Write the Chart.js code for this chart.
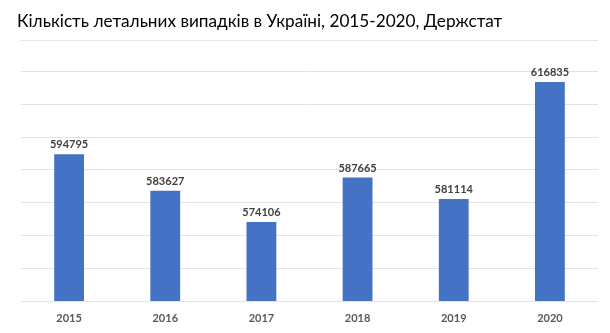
<!DOCTYPE html>
<html>
<head>
<meta charset="utf-8">
<script src="https://cdn.jsdelivr.net/npm/chart.js@4"></script>
<style>
  html, body { margin: 0; padding: 0; background: #fff; overflow: hidden; }
  #deathsChart { display: block; }
</style>
</head>
<body>
<canvas id="deathsChart" width="610" height="333"></canvas>
<script>
// Data
const years = ["2015", "2016", "2017", "2018", "2019", "2020"];
const deaths = [594795, 583627, 574106, 587665, 581114, 616835];
const titleText = "Кількість летальних випадків в Україні, 2015-2020, Держстат";

// Draws the value above each bar
const barValues = {
    id: "barValues",
    afterDatasetsDraw(chart) {
        let ctx = chart.ctx;
        ctx.save();
        ctx.font = "bold 11px Lato";
        ctx.fillStyle = "#404040";
        ctx.textAlign = "center";
        ctx.textBaseline = "bottom";
        chart.getDatasetMeta(0).data.forEach((bar, i) => {
            ctx.fillText(String(deaths[i]), bar.x, bar.y - 4);
        });
        ctx.restore();
    }
};

// Thin line under the title
const titleRule = {
    id: "titleRule",
    afterDraw(chart) {
        let ctx = chart.ctx;
        ctx.save();
        ctx.strokeStyle = "#e6e6e6";
        ctx.lineWidth = 1;
        ctx.beginPath();
        ctx.moveTo(20, 40.5);
        ctx.lineTo(598, 40.5);
        ctx.stroke();
        ctx.restore();
    }
};

let ctx = document.getElementById("deathsChart").getContext("2d");
let deathsChart = new Chart(ctx, {
    type: "bar",
    data: {
        labels: years,
        datasets: [{
            data: deaths,
            backgroundColor: "#4472c4",
            barPercentage: 0.62,
            categoryPercentage: 0.5
        }]
    },
    options: {
        responsive: false,
        animation: false,
        layout: { padding: { left: 17, right: 12, top: 0, bottom: 0 } },
        plugins: {
            legend: { display: false },
            tooltip: { enabled: false },
            title: {
                display: true,
                text: titleText,
                align: "start",
                color: "#000",
                font: { family: "Lato", size: 17.2, weight: "normal" },
                padding: { top: 11.5, bottom: 39.5 }
            }
        },
        scales: {
            x: {
                afterFit: axis => { axis.height = 32; },
                grid: { display: false },
                border: { display: false },
                ticks: {
                    color: "#595959",
                    font: { family: "Lato", size: 11, weight: "bold" },
                    padding: 3
                }
            },
            y: {
                min: 550000,
                max: 620000,
                afterFit: axis => { axis.width = 4; },
                grid: { color: "#e3e3e3", drawTicks: false },
                border: { display: false },
                ticks: { display: false, stepSize: 10000 }
            }
        }
    },
    plugins: [barValues, titleRule]
});
</script>
</body>
</html>
